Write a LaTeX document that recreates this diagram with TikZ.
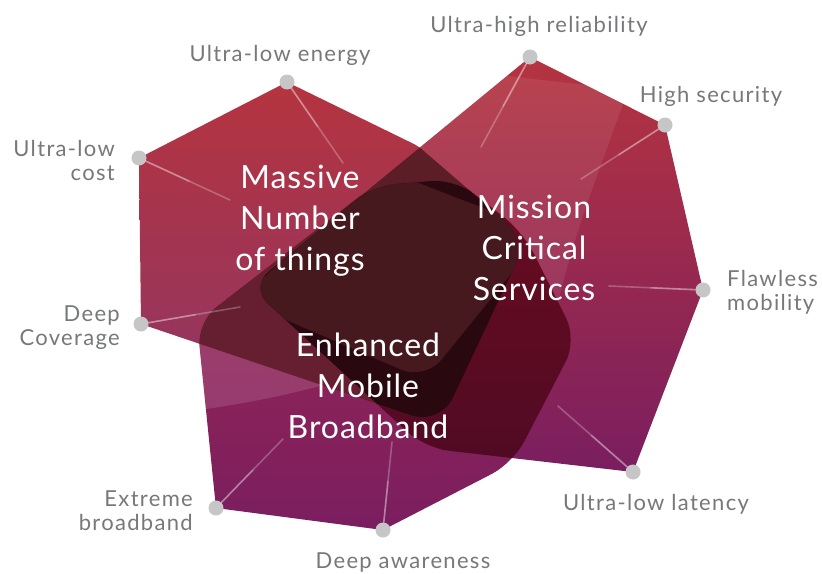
\documentclass[tikz,border=0pt]{standalone}
\usepackage{fontspec}
\setmainfont{Lato}
\newfontfamily\kpifont{Lato}[LetterSpace=6]
\newfontfamily\areafont{Lato}[LetterSpace=3]
\usepackage{tikz}
\usetikzlibrary{positioning,calc}

\definecolor{kpigrey}{HTML}{76787A}
\definecolor{dotgrey}{HTML}{C6C6C6}
\definecolor{redtop}{HTML}{B5343F}
\definecolor{mmtcbot}{HTML}{8E3566}
\definecolor{urllcmid}{HTML}{9A1E45}
\definecolor{plumbot}{HTML}{7A1E60}
\definecolor{embbtop}{HTML}{A0284F}
\definecolor{mutop}{HTML}{611F28}
\definecolor{mubot}{HTML}{4E1B22}
\definecolor{mefill}{HTML}{651F30}
\definecolor{uetop}{HTML}{6A0C20}
\definecolor{uebot}{HTML}{4A0A24}
\definecolor{coredark}{HTML}{2A0810}
\definecolor{corelight}{HTML}{45191D}

% the three service areas, in pixel-like units
\def\areaM{[rounded corners=5pt] (418,146) -- (287,82) -- (139,158) -- (141,324)
  [rounded corners=30pt] -- (440,425) -- (527,240) [rounded corners=5pt] -- cycle}
\def\areaU{[rounded corners=5pt] (530,57) -- (665,125) -- (703,290) -- (633,472)
  [rounded corners=24pt] -- (425,448) -- (250,287) [rounded corners=5pt] -- cycle}
\def\areaE{[rounded corners=5pt] (216,508) -- (383,530) [rounded corners=24pt] -- (513,463)
  -- (577,340) -- (523,232) -- (455,179) -- (373,186) -- (197,322) [rounded corners=5pt] -- cycle}
% lighter core inside the common part
\def\areaCore{[rounded corners=26pt] (240,300) -- (380,168) -- (545,232) -- (425,380) -- cycle}

\begin{document}
\begin{tikzpicture}[x=1pt,y=-1pt,
  kpi/.style={font=\kpifont\fontsize{22}{23.5}\selectfont, text=kpigrey, inner sep=0pt},
  area/.style={font=\areafont\fontsize{32}{41}\selectfont, text=white, align=center, inner sep=0pt},
  kpidot/.style={circle, fill=dotgrey, minimum size=15pt, inner sep=0pt},
  spoke/.style={white, opacity=.25, line width=1.6pt, line cap=round},
]
\fill[white] (0,0) rectangle (822,573);
\useasboundingbox (0,0) rectangle (822,573);

% base fills
\shade[top color=redtop, bottom color=mmtcbot] \areaM;
\shade[top color=redtop, middle color=urllcmid, bottom color=plumbot] \areaU;
\shade[top color=embbtop, bottom color=plumbot] \areaE;

% gloss on the single areas
\begin{scope}
  \clip \areaU;
  \fill[white, opacity=.08] (628,90) .. controls (600,170) and (570,240) .. (552,330)
    -- (200,330) -- (200,40) -- cycle;
\end{scope}
\begin{scope}
  \clip \areaE;
  \fill[white, opacity=.12] (200,410) .. controls (300,395) and (380,375) .. (450,330)
    -- (450,300) -- (190,300) -- cycle;
\end{scope}

% overlaps
\begin{scope}
  \clip \areaM;
  \shade[top color=mutop, bottom color=mubot] \areaU;
\end{scope}
\begin{scope}
  \clip \areaM;
  \fill[mefill] \areaE;
\end{scope}
\begin{scope}
  \clip \areaU;
  \shade[top color=uetop, bottom color=uebot] \areaE;
\end{scope}
\begin{scope}
  \clip \areaM;
  \clip \areaU;
  \fill[coredark] \areaE;
  \clip \areaE;
  \fill[corelight] \areaCore;
\end{scope}

% key figures on the corners, spokes fade towards the middle
\foreach \name/\pos/\inner in {%
  energy/{287,82}/{343,163},
  cost/{139,158}/{230,200},
  coverage/{141,324}/{240,307},
  broadband/{216,508}/{283,439},
  awareness/{383,530}/{392,442},
  latency/{633,472}/{558,406},
  mobility/{703,290}/{609,286},
  security/{665,125}/{581,179},
  reliability/{530,57}/{481,147}%
} {
  \coordinate (\name-in) at (\inner);
  \node[kpidot] (\name) at (\pos) {};
  \draw[spoke] (\name) -- (\name-in);
  \draw[spoke] (\name) -- ($(\name)!.55!(\name-in)$);
}

\node[kpi, anchor=base] (energy-txt) at (280,61) {Ultra-low energy};
\node[kpi, anchor=base] (reliability-txt) at (539,32) {Ultra-high reliability};
\node[kpi, anchor=base] (security-txt) at (711,102) {High security};
\node[kpi, anchor=base east, align=right] (cost-txt) at (115,180) {Ultra-low\\cost};
\node[kpi, anchor=base west, align=left] (mobility-txt) at (727,310) {Flawless\\mobility};
\node[kpi, anchor=base east, align=right] (coverage-txt) at (120,345) {Deep\\Coverage};
\node[kpi, anchor=base east, align=right] (broadband-txt) at (193,530) {Extreme\\broadband};
\node[kpi, anchor=base] (awareness-txt) at (403,568) {Deep awareness};
\node[kpi, anchor=base] (latency-txt) at (656,510) {Ultra-low latency};

% service names
\node[area, anchor=base] (mmtc) at (300,270) {Massive\\Number\\of things};
\node[area, anchor=base] (urllc) at (534,300) {Mission\\Critical\\Services};
\node[area, anchor=base] (embb) at (368,438) {Enhanced\\Mobile\\Broadband};
\end{tikzpicture}
\end{document}
